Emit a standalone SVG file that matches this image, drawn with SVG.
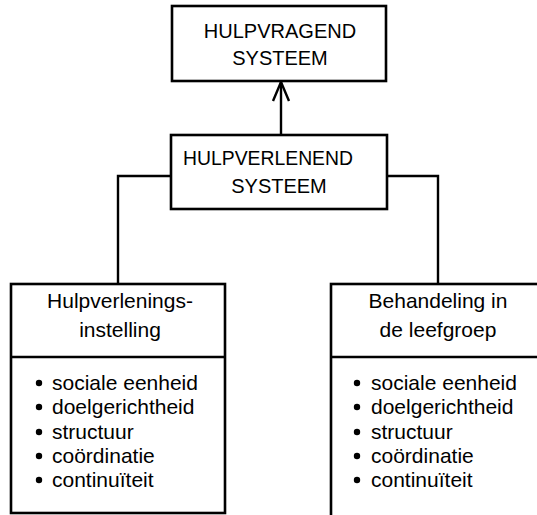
<svg xmlns="http://www.w3.org/2000/svg" width="537" height="515" viewBox="0 0 537 515">
  <style>
    .box { fill: #fff; stroke: #000; stroke-width: 2.6; }
    .line { fill: none; stroke: #000; stroke-width: 2.4; }
    text { font-family: "Liberation Sans", Arial, sans-serif; fill: #000; }
    .cap { font-size: 20px; text-anchor: middle; }
    .head { font-size: 21px; text-anchor: middle; }
    .item { font-size: 21px; }
  </style>
  <defs>
    <!-- open V arrowhead, drawn pointing along +x -->
    <marker id="openArrow" viewBox="0 0 24 20" refX="22" refY="10" markerWidth="24" markerHeight="20" markerUnits="userSpaceOnUse" orient="auto">
      <path d="M3 2 L22 10 L3 18" fill="none" stroke="#000" stroke-width="2.4"/>
    </marker>
  </defs>

  <rect width="537" height="515" fill="#fff"/>

  <!-- connectors -->
  <g id="connectors">
    <line class="line" x1="281" y1="135" x2="281" y2="82" marker-end="url(#openArrow)"/>
    <polyline class="line" points="171,176 118,176 118,284"/>
    <polyline class="line" points="387,176 438,176 438,284"/>
  </g>

  <!-- requesting system -->
  <g id="hulpvragend">
    <rect class="box" x="172" y="6" width="214" height="75"/>
    <text class="cap" x="280" y="38">HULPVRAGEND</text>
    <text class="cap" x="280" y="65">SYSTEEM</text>
  </g>

  <!-- helping system -->
  <g id="hulpverlenend">
    <rect class="box" x="171" y="135" width="216" height="74"/>
    <text class="cap" x="268" y="165" textLength="170" lengthAdjust="spacingAndGlyphs">HULPVERLENEND</text>
    <text class="cap" x="279" y="193">SYSTEEM</text>
  </g>

  <!-- left: institution -->
  <g id="instelling">
    <rect class="box" x="11" y="284" width="214" height="229"/>
    <line class="line" x1="11" y1="357" x2="225" y2="357"/>
    <text class="head" x="120" y="308">Hulpverlenings-</text>
    <text class="head" x="120" y="337">instelling</text>
    <g class="item">
      <circle cx="39" cy="383" r="3.2"/>
      <text x="52" y="390">sociale eenheid</text>
      <circle cx="39" cy="407" r="3.2"/>
      <text x="52" y="414">doelgerichtheid</text>
      <circle cx="39" cy="432" r="3.2"/>
      <text x="52" y="439">structuur</text>
      <circle cx="39" cy="456" r="3.2"/>
      <text x="52" y="463">coördinatie</text>
      <circle cx="39" cy="480" r="3.2"/>
      <text x="52" y="487">continuïteit</text>
    </g>
  </g>

  <!-- right: living group -->
  <g id="leefgroep">
    <rect class="box" x="331" y="284" width="220" height="240"/>
    <line class="line" x1="331" y1="357" x2="540" y2="357"/>
    <text class="head" x="438" y="308">Behandeling in</text>
    <text class="head" x="438" y="337">de leefgroep</text>
    <g class="item">
      <circle cx="357" cy="383" r="3.2"/>
      <text x="371" y="390">sociale eenheid</text>
      <circle cx="357" cy="407" r="3.2"/>
      <text x="371" y="414">doelgerichtheid</text>
      <circle cx="357" cy="432" r="3.2"/>
      <text x="371" y="439">structuur</text>
      <circle cx="357" cy="456" r="3.2"/>
      <text x="371" y="463">coördinatie</text>
      <circle cx="357" cy="480" r="3.2"/>
      <text x="371" y="487">continuïteit</text>
    </g>
  </g>
</svg>
